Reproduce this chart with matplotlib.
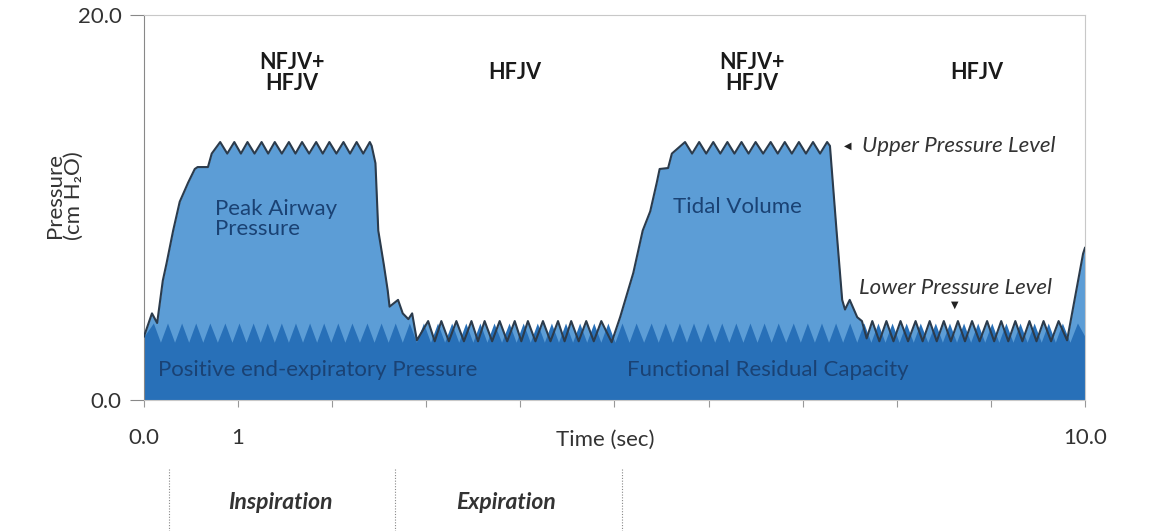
import matplotlib
matplotlib.use('Agg')
import matplotlib.pyplot as plt

plt.rcParams['font.family'] = ['Lato', 'DejaVu Sans']

# ---- airway pressure trace (time in s, pressure in cm H2O) ----
rise1_t = [0.00, 0.085, 0.14, 0.20, 0.24, 0.31, 0.38, 0.47, 0.54, 0.57, 0.68, 0.72]
rise1_p = [3.3, 4.5, 4.0, 6.2, 7.1, 8.8, 10.3, 11.3, 12.0, 12.1, 12.1, 12.8]
plat1_peaks = [0.81, 0.96, 1.10, 1.25, 1.39, 1.54, 1.68, 1.83, 1.97, 2.12, 2.26, 2.40]
drop1_t = [2.42, 2.46, 2.49, 2.55, 2.59, 2.61, 2.70, 2.75, 2.81, 2.85, 2.90]
drop1_p = [13.2, 12.3, 8.8, 7.0, 5.7, 4.85, 5.2, 4.5, 4.2, 4.5, 3.1]
exp1_peaks = [3.02, 3.16, 3.32, 3.48, 3.62, 3.78, 3.94, 4.08, 4.24, 4.40, 4.54, 4.70, 4.86]
rise2_t = [4.97, 5.06, 5.20, 5.30, 5.38, 5.45, 5.48, 5.57, 5.61]
rise2_p = [3.0, 4.3, 6.6, 8.8, 9.8, 11.3, 12.0, 12.05, 12.8]
plat2_peaks = [5.75, 5.90, 6.05, 6.20, 6.35, 6.50, 6.66, 6.81, 6.96, 7.11, 7.26]
drop2_t = [7.29, 7.36, 7.42, 7.45, 7.50, 7.58, 7.63, 7.68]
drop2_p = [13.2, 8.8, 5.2, 4.7, 5.2, 4.3, 4.1, 3.2]
exp2_peaks = [7.74, 7.89, 8.04, 8.20, 8.35, 8.50, 8.65, 8.80, 8.96, 9.11, 9.26, 9.41, 9.56, 9.72]
rise3_t = [9.81, 9.98, 10.0]
rise3_p = [3.1, 7.6, 7.9]

plateau_hi, plateau_lo = 13.4, 12.8
hfjv_hi, hfjv_lo = 4.1, 3.05

# ---- FRC / PEEP teeth ----
frc_peaks = [0.10, 0.25, 0.40, 0.55, 0.70, 0.86, 1.01, 1.16, 1.31, 1.46, 1.61, 1.76,
             1.91, 2.06, 2.21, 2.37, 2.52, 2.67, 2.82, 2.97, 3.12, 3.27, 3.42, 3.57,
             3.72, 3.88, 4.03, 4.18, 4.33, 4.48, 4.63, 4.78, 4.93, 5.08, 5.23, 5.39,
             5.54, 5.69, 5.84, 5.99, 6.14, 6.29, 6.44, 6.59, 6.74, 6.90, 7.05, 7.20,
             7.35, 7.50, 7.65, 7.80, 7.95, 8.10, 8.25, 8.41, 8.56, 8.71, 8.86, 9.01,
             9.16, 9.31, 9.46, 9.61, 9.76, 9.92]
frc_hi, frc_lo = 4.0, 3.0
frc_ends = [3.3, 3.3]

phase_labels = ['NFJV+\nHFJV', 'HFJV', 'NFJV+\nHFJV', 'HFJV']
phase_x = [1.57, 3.94, 6.46, 8.85]
cycle_marks = [0.27, 2.67, 5.08]
cycle_labels = ['Inspiration', 'Expiration']
cycle_label_x = [1.45, 3.85]

LIGHT = '#5c9dd6'
DARK = '#2870b8'
TXT = '#1a4274'
FS = 16


def zigzag(peaks, hi, lo):
    t, p = [], []
    for i, pk in enumerate(peaks):
        if i > 0:
            t.append((peaks[i - 1] + pk) / 2)
            p.append(lo)
        t.append(pk)
        p.append(hi)
    return t, p


line_t, line_p = [], []
for seg_t, seg_p in [(rise1_t, rise1_p), zigzag(plat1_peaks, plateau_hi, plateau_lo),
                     (drop1_t, drop1_p), zigzag(exp1_peaks, hfjv_hi, hfjv_lo),
                     (rise2_t, rise2_p), zigzag(plat2_peaks, plateau_hi, plateau_lo),
                     (drop2_t, drop2_p), zigzag(exp2_peaks, hfjv_hi, hfjv_lo),
                     (rise3_t, rise3_p)]:
    line_t += seg_t
    line_p += seg_p

ft, fp = zigzag(frc_peaks, frc_hi, frc_lo)
frc_t = [0.0] + ft + [10.0]
frc_p = [frc_ends[0]] + fp + [frc_ends[1]]

fig = plt.figure(figsize=(11.62, 5.31), dpi=100)
ax = fig.add_axes([0.1239, 0.2467, 0.8098, 0.7251])

ax.fill_between(line_t, 0, line_p, color=LIGHT, lw=0, zorder=1)
ax.fill_between(frc_t, 0, frc_p, color=DARK, lw=0, zorder=2)
ax.plot(line_t, line_p, color='#2b3b4c', lw=1.5, zorder=3, solid_joinstyle='round')

ax.set_xlim(0, 10)
ax.set_ylim(0, 20)
ax.set_xticks(range(11))
ax.set_xticklabels(['0.0', '1', '', '', '', '', '', '', '', '', '10.0'])
ax.set_yticks([0, 20])
ax.set_yticklabels(['0.0', '20.0'])
ax.tick_params(axis='x', length=5, color='#999999', labelcolor='#333333',
               labelsize=FS, pad=15)
ax.tick_params(axis='y', length=10, color='#888888', labelcolor='#333333',
               labelsize=FS, pad=6)
for side in ['top', 'right', 'bottom']:
    ax.spines[side].set_color('#c8c8c8')
ax.spines['left'].set_color('#888888')

ax.text(4.9, -0.104, 'Time (sec)', transform=ax.get_xaxis_transform(),
        ha='center', va='center', fontsize=FS, color='#333333')
ax.set_ylabel('Pressure\n(cm H₂O)', fontsize=FS, color='#333333', linespacing=0.95)
ax.yaxis.set_label_coords(-0.064, 0.53)

# inside labels
ax.text(0.75, 9.4, 'Peak Airway\nPressure', fontsize=FS, color=TXT,
        va='center', linespacing=1.05, zorder=4)
ax.text(5.62, 10.0, 'Tidal Volume', fontsize=FS, color=TXT, va='center', zorder=4)
ax.text(0.15, 1.55, 'Positive end-expiratory Pressure', fontsize=FS, color=TXT,
        va='center', zorder=4)
ax.text(5.13, 1.55, 'Functional Residual Capacity', fontsize=FS, color=TXT,
        va='center', zorder=4)

for lab, x in zip(phase_labels, phase_x):
    ax.text(x, 17.0, lab, ha='center', va='center', fontsize=15.5, fontweight='bold',
            color='#1a1a1a', linespacing=1.0)

ax.text(7.48, 13.2, '◀', fontsize=7, color='#222222', ha='center', va='center',
        family=['DejaVu Sans'])
ax.text(7.63, 13.2, 'Upper Pressure Level', fontsize=FS, style='italic',
        color='#333333', va='center')
ax.text(8.62, 5.8, 'Lower Pressure Level', fontsize=FS, style='italic',
        color='#333333', va='center', ha='center')
ax.text(8.62, 4.95, '▼', fontsize=7, color='#222222', ha='center', va='center',
        family=['DejaVu Sans'])

tr = ax.get_xaxis_transform()
for x in cycle_marks:
    ax.plot([x, x], [-0.18, -0.34], transform=tr, clip_on=False, color='#888888',
            lw=0.8, ls=(0, (1, 1.5)))
for lab, x in zip(cycle_labels, cycle_label_x):
    ax.text(x, -0.265, lab, transform=tr, ha='center', va='center', fontsize=16.5,
            style='italic', fontweight='bold', color='#333333')

fig.savefig('out.png', dpi=100)
